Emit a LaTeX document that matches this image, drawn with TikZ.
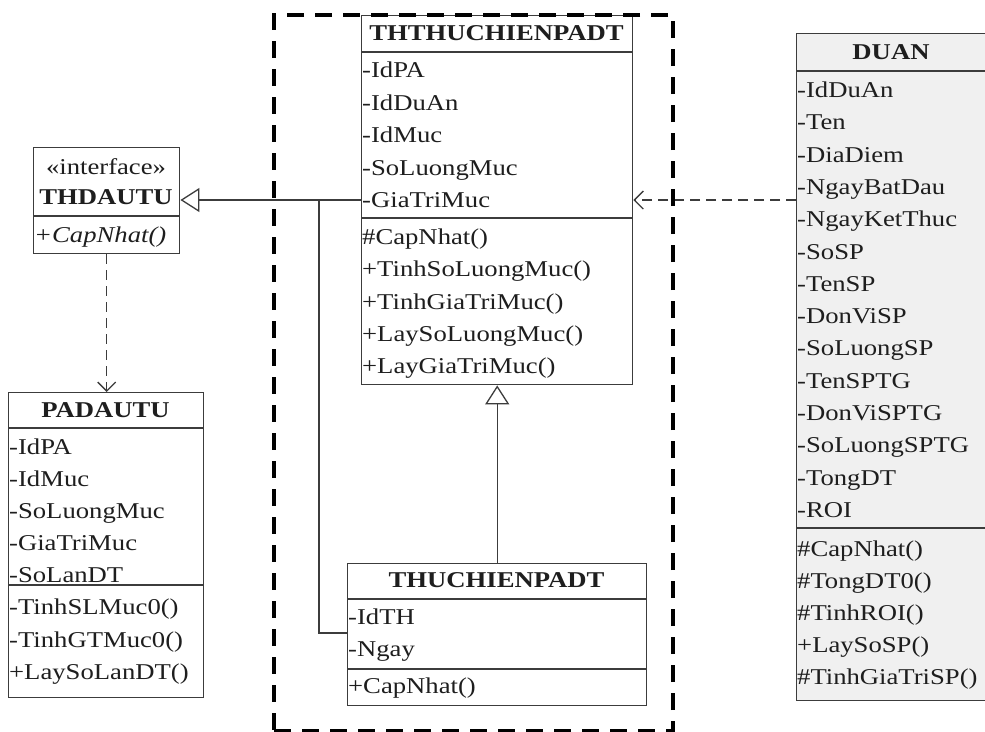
\documentclass[tikz,border=0pt]{standalone}
\usepackage{fontspec}
\setmainfont[FakeStretch=1.18]{Liberation Serif}
\usetikzlibrary{arrows.meta}
\definecolor{linec}{HTML}{3C3C3C}
\definecolor{txt}{HTML}{1E1E1E}
\definecolor{duanfill}{HTML}{F0F0F0}

\begin{document}
\begin{tikzpicture}[x=1pt,y=-1pt,
  box/.style={draw=linec, line width=1.4pt, fill=white, inner sep=0pt, anchor=north west},
  row/.style={anchor=base west, inner sep=0pt, text=txt, font=\fontsize{22.6}{26}\selectfont},
  ttl/.style={anchor=base, inner sep=0pt, text=txt, font=\fontsize{22.6}{26}\selectfont\bfseries},
  sep/.style={draw=linec, line width=1.4pt},
  conn/.style={draw=linec, line width=1.3pt},
  dep/.style={conn, dash pattern=on 10pt off 6pt, -{Straight Barb[length=9pt,width=18pt]}},
  gen/.style={conn, -{Triangle[open,length=19pt,width=24pt,fill=white]}},
  pkg/.style={draw=black, line width=4pt, dash pattern=on 17pt off 11pt, inner sep=0pt, anchor=north west}]

\useasboundingbox (0,0) rectangle (985,731);

% class boxes
\node[box, minimum width=146pt, minimum height=106pt] (thd) at (33,147) {};
\node[box, minimum width=195pt, minimum height=305pt] (pad) at (8,392) {};
\node[box, minimum width=271pt, minimum height=369pt] (thth) at (361,15) {};
\node[box, minimum width=299pt, minimum height=142pt] (thu) at (347,563) {};
\node[box, fill=duanfill, minimum width=189pt, minimum height=667pt] (duan) at (796,33) {};

% compartment separators
\draw[sep] (thd.west |- 0,216) -- (thd.east |- 0,216);
\draw[sep] (pad.west |- 0,428) -- (pad.east |- 0,428);
\draw[sep] (pad.west |- 0,585) -- (pad.east |- 0,585);
\draw[sep] (thth.west |- 0,52) -- (thth.east |- 0,52);
\draw[sep] (thth.west |- 0,218) -- (thth.east |- 0,218);
\draw[sep] (thu.west |- 0,599) -- (thu.east |- 0,599);
\draw[sep] (thu.west |- 0,669) -- (thu.east |- 0,669);
\draw[sep] (duan.west |- 0,71) -- (duan.east |- 0,71);
\draw[sep] (duan.west |- 0,528) -- (duan.east |- 0,528);

% THDAUTU
\node[anchor=base, inner sep=0pt, text=txt, font=\fontsize{22.6}{26}\selectfont] (thd-st) at (106,174.5) {«interface»};
\node[ttl] (thd-t) at (106,204.5) {THDAUTU};
\node[row, font=\fontsize{22.6}{26}\selectfont\itshape] (thd-m1) at (34,242.5) {+CapNhat()};

% PADAUTU
\node[ttl] (pad-t) at (105.5,417.5) {PADAUTU};
\foreach \t [count=\i] in {-IdPA,-IdMuc,-SoLuongMuc,-GiaTriMuc,-SoLanDT}
  \node[row] (pad-a\i) at (9,422.5+32*\i) {\t};
\foreach \t [count=\i] in {-TinhSLMuc0(),-TinhGTMuc0(),+LaySoLanDT()}
  \node[row] (pad-m\i) at (9,582+32.5*\i) {\t};

% THTHUCHIENPADT
\node[ttl] (thth-t) at (496.5,40.5) {THTHUCHIENPADT};
\foreach \t [count=\i] in {-IdPA,-IdDuAn,-IdMuc,-SoLuongMuc,-GiaTriMuc}
  \node[row] (thth-a\i) at (362,45+32.5*\i) {\t};
\foreach \t [count=\i] in {\#CapNhat(),+TinhSoLuongMuc(),+TinhGiaTriMuc(),+LaySoLuongMuc(),+LayGiaTriMuc()}
  \node[row] (thth-m\i) at (362,212.25+32.25*\i) {\t};

% THUCHIENPADT
\node[ttl] (thu-t) at (496.5,587.5) {THUCHIENPADT};
\node[row] (thu-a1) at (348,624.5) {-IdTH};
\node[row] (thu-a2) at (348,656.5) {-Ngay};
\node[row] (thu-m1) at (348,693.5) {+CapNhat()};

% DUAN
\node[ttl] (duan-t) at (891,59.5) {DUAN};
\foreach \t [count=\i] in {-IdDuAn,-Ten,-DiaDiem,-NgayBatDau,-NgayKetThuc,-SoSP,-TenSP,-DonViSP,-SoLuongSP,-TenSPTG,-DonViSPTG,-SoLuongSPTG,-TongDT,-ROI}
  \node[row] (duan-a\i) at (797,65.2+32.3*\i) {\t};
\foreach \t [count=\i] in {\#CapNhat(),\#TongDT0(),\#TinhROI(),+LaySoSP(),\#TinhGiaTriSP()}
  \node[row] (duan-m\i) at (797,524.5+32*\i) {\t};

% relationships
\coordinate (jn) at (319,200);
\draw[gen] (thth.west |- 0,200) -- (thd.east |- 0,200);
\draw[conn] (thu.west |- 0,633) -| (jn);
\draw[gen] (thu.north) -- (thth.south);
\draw[dep] (thd.south) -- (pad.north -| thd.south);
\draw[dep] (duan.west |- 0,200) -- (thth.east |- 0,200);

% package frame
\node[pkg, minimum width=399pt, minimum height=716pt] (grp) at (272,13) {};
\end{tikzpicture}
\end{document}
